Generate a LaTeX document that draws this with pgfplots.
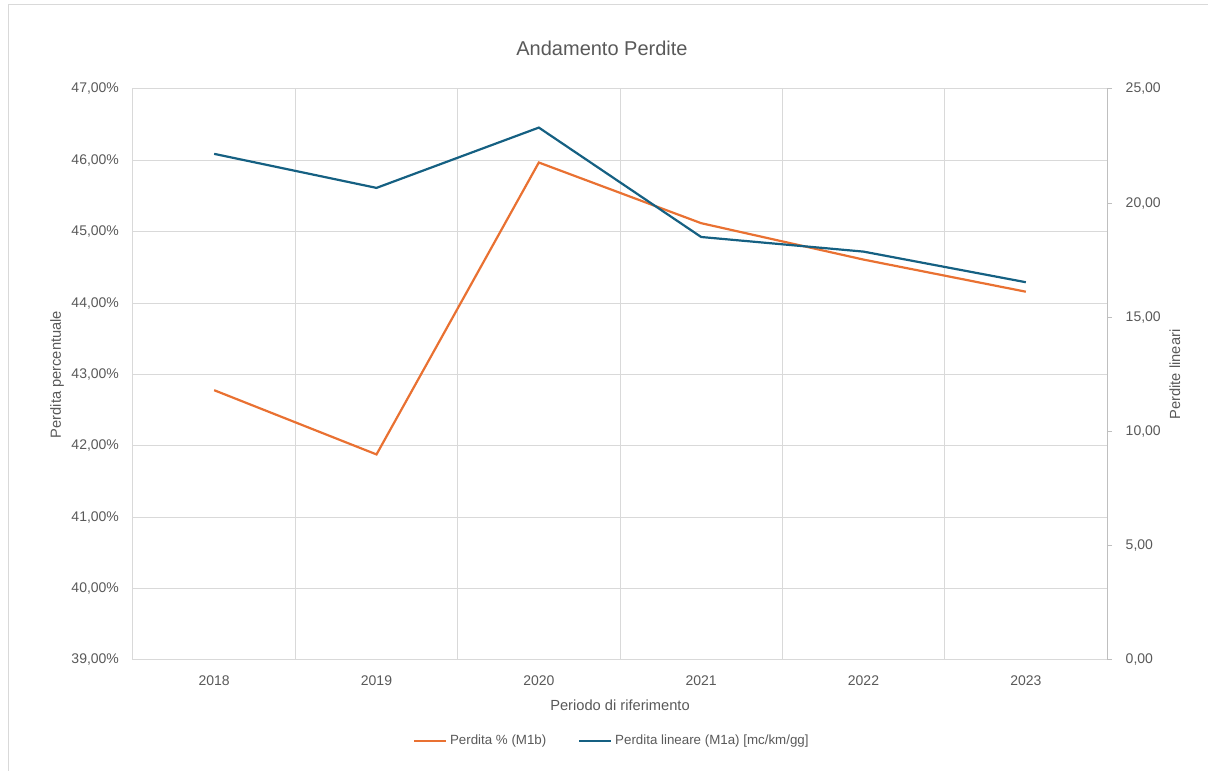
\documentclass[border=0pt]{standalone}
\usepackage{fontspec}
\setmainfont{Liberation Sans}
\usepackage{pgfplots}
\usepackage{pgfplotstable}
\pgfplotsset{compat=1.18}
\definecolor{serA}{HTML}{E97132}
\definecolor{serB}{HTML}{156082}
\definecolor{gridc}{HTML}{D9D9D9}
\definecolor{axc}{HTML}{BFBFBF}
\definecolor{txt}{HTML}{595959}

\pgfplotstableread{
x perc lin
0 42.78 22.16
1 41.88 20.67
2 45.97 23.31
3 45.12 18.52
4 44.61 17.88
5 44.16 16.54
}\datatable

\pgfplotsset{common/.style={
  scale only axis, width=730.5pt, height=428.25pt,
  at={(99.75pt,83.25pt)}, anchor=south west,
  xmin=-0.5, xmax=5.5,
  tick label style={txt, font=\fontsize{10.5}{12}\selectfont},
  label style={txt, font=\fontsize{11}{13}\selectfont},
}}

\begin{document}
\begin{tikzpicture}
\useasboundingbox (0,0) rectangle (906pt,578.25pt);
\draw[gridc, line width=0.75pt] (6pt,0pt) -- (6pt,574.5pt) -- (906pt,574.5pt);
\node[txt, font=\fontsize{15}{18}\selectfont] at (451.5pt,542.25pt) {Andamento Perdite};

\begin{axis}[common,
  ymin=39, ymax=47, ytick={39,40,...,47},
  yticklabels={{39,00\%},{40,00\%},{41,00\%},{42,00\%},{43,00\%},{44,00\%},{45,00\%},{46,00\%},{47,00\%}},
  xtick={0,1,2,3,4,5},
  xticklabels={2018,2019,2020,2021,2022,2023},
  minor xtick={0.5,1.5,2.5,3.5,4.5},
  xminorgrids=true, ymajorgrids=true,
  grid style={gridc, line width=0.75pt},
  minor grid style={gridc, line width=0.75pt},
  major tick length=0pt, minor tick length=0pt,
  axis line style={gridc, line width=0.75pt},
  x axis line style={axc},
  yticklabel style={xshift=-7pt},
  xticklabel style={yshift=-8pt},
  xlabel={Periodo di riferimento},
  ylabel={Perdita percentuale},
  xlabel style={at={(axis description cs:0.5,-0.0788)}, anchor=center},
  ylabel style={at={(axis description cs:-0.078,0.5)}, anchor=center},
]
\addplot[serA, line width=1.65pt] table[x=x, y=perc] {\datatable};
\end{axis}

\begin{axis}[common,
  axis y line*=right, axis x line=none,
  ymin=0, ymax=25, ytick={0,5,...,25},
  yticklabels={{0,00},{5,00},{10,00},{15,00},{20,00},{25,00}},
  tick align=outside, major tick length=3.75pt,
  ytick style={axc, line width=0.75pt},
  axis line style={axc, line width=0.75pt},
  yticklabel style={xshift=6.75pt},
  ylabel={Perdite lineari},
  ylabel style={at={(axis description cs:1.0698,0.5)}, anchor=center},
  legend style={at={(axis description cs:0.492,-0.142)}, anchor=center,
    draw=none, fill=none, text=txt, font=\fontsize{10}{12}\selectfont,
    legend columns=2,
    /tikz/every even column/.append style={column sep=22pt}},
  legend image code/.code={\draw[#1] (0pt,0pt) -- (24pt,0pt);},
]
\addlegendimage{serA, line width=1.65pt}
\addlegendentry{Perdita \% (M1b)}
\addplot[serB, line width=1.65pt] table[x=x, y=lin] {\datatable};
\addlegendentry{Perdita lineare (M1a) [mc/km/gg]}
\end{axis}
\end{tikzpicture}
\end{document}
